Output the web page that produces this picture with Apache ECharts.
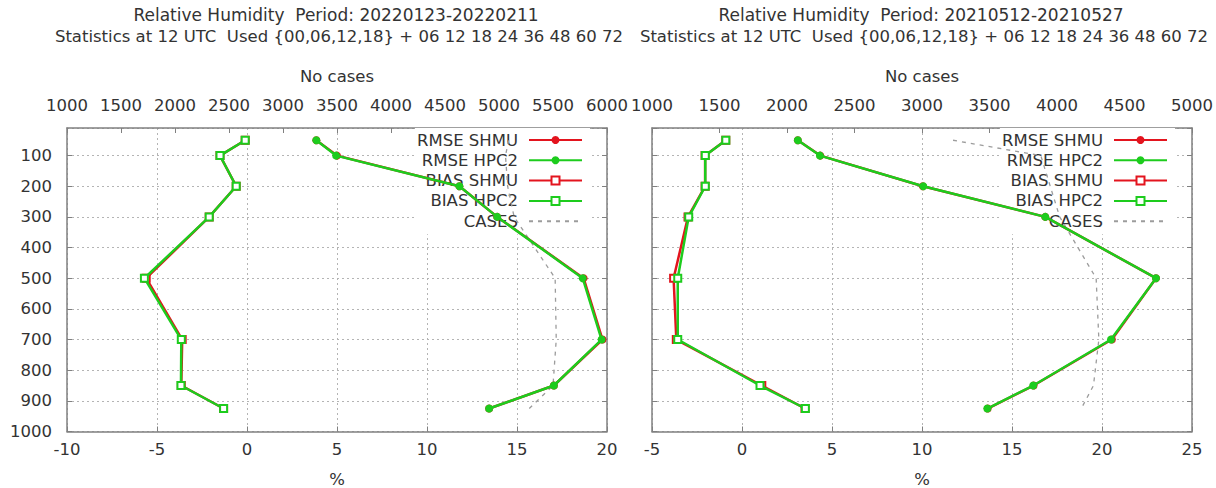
<!DOCTYPE html>
<html><head><meta charset="utf-8">
<script src="https://cdn.jsdelivr.net/npm/echarts@6/dist/echarts.min.js"></script>
<style>
html,body{margin:0;padding:0;background:#fff;width:1216px;height:488px;overflow:hidden}
#c{position:absolute;left:0;top:0;width:1216px;height:488px}
</style></head><body>
<div id="c"></div>
<script>
// pressure levels (hPa)
const levels = [50, 100, 200, 300, 500, 700, 850, 925];
const seriesNames = ['RMSE SHMU', 'RMSE HPC2', 'BIAS SHMU', 'BIAS HPC2', 'CASES'];
const subtitle = 'Statistics at 12 UTC  Used {00,06,12,18} + 06 12 18 24 36 48 60 72';

// Left panel: period 20220123-20220211
const titleL = 'Relative Humidity  Period: 20220123-20220211';
const rmseShmuL = [3.85, 5.0, 11.8, 13.9, 18.7, 19.75, 17.05, 13.45];
const rmseHpc2L = [3.85, 4.95, 11.8, 13.9, 18.65, 19.7, 17.05, 13.45];
const biasShmuL = [-0.1, -1.5, -0.6, -2.1, -5.6, -3.6, -3.65, -1.3];
const biasHpc2L = [-0.1, -1.5, -0.6, -2.1, -5.7, -3.65, -3.67, -1.3];
const casesL = [5090, 5060, 5080, 5140, 5520, 5530, 5500, 5280];
const pctRangeL = [-10, 20];
const casesRangeL = [1000, 6000];

// Right panel: period 20210512-20210527
const titleR = 'Relative Humidity  Period: 20210512-20210527';
const rmseShmuR = [3.1, 4.35, 10.05, 16.85, 23.0, 20.55, 16.2, 13.65];
const rmseHpc2R = [3.1, 4.33, 10.07, 16.85, 23.0, 20.5, 16.18, 13.63];
const biasShmuR = [-0.9, -2.05, -2.05, -3.0, -3.8, -3.65, 1.1, 3.5];
const biasHpc2R = [-0.9, -2.04, -2.04, -2.96, -3.57, -3.57, 1.0, 3.52];
const casesR = [3230, 3880, 3950, 4020, 4290, 4310, 4270, 4180];
const pctRangeR = [-5, 25];
const casesRangeR = [1000, 5000];

const FONT = 'DejaVu Sans';
const TXT = '#333';
const RED = '#e3141e';
const GREEN = '#1dcc1d';
const BORDER = '#808080';
const TOTAL_W = 1216;

function pairs(vals) { return levels.map((p, i) => [vals[i], p]); }

const option = {
  animation: false,
  backgroundColor: '#fff',
  graphic: [], grid: [], legend: [], xAxis: [], yAxis: [], series: []
};

function addPanel(k, dx, showYLabels, title, rmseS, rmseH, biasS, biasH, cases, pctRange, casesRange) {
  const axisLine = { show: true, onZero: false, lineStyle: { color: BORDER, width: 1.5 } };
  const tick = { show: true, inside: true, length: 5, lineStyle: { color: BORDER, width: 1 } };
  const lbl = { fontFamily: FONT, fontSize: 16.5, color: TXT };
  const gridLine = { type: [2, 3], color: '#b4b4b4', width: 1 };
  const font = '16.5px "' + FONT + '"';

  option.graphic.push(
    { type: 'text', x: dx + 336, y: 15, style: { text: title, font: '17px "' + FONT + '"', fill: TXT, textAlign: 'center', textVerticalAlign: 'middle' } },
    { type: 'text', x: dx + 339, y: 36, style: { text: subtitle, font: font, fill: TXT, textAlign: 'center', textVerticalAlign: 'middle' } }
  );
  option.grid.push({ left: dx + 67, top: 128, right: TOTAL_W - (dx + 607), bottom: 488 - 431.5, outerBoundsMode: 'none', containLabel: false });
  option.legend.push({
    orient: 'vertical', align: 'right', right: TOTAL_W - (dx + 590), top: 128,
    padding: [2, 7, 3, 2], itemWidth: 53, itemHeight: 10, itemGap: 0.3,
    backgroundColor: '#fff', z: 1,
    textStyle: { fontFamily: FONT, fontSize: 16.5, lineHeight: 20, color: TXT, padding: [0, 6, 0, 0] },
    data: [seriesNames[0], seriesNames[1], seriesNames[2], seriesNames[3],
           { name: seriesNames[4], itemStyle: { opacity: 0 } }]
  });
  const xb = option.xAxis.length;
  option.xAxis.push(
    {
      gridIndex: k, type: 'value', position: 'bottom', min: pctRange[0], max: pctRange[1], interval: 5,
      axisLine: axisLine, axisTick: tick,
      axisLabel: Object.assign({ margin: 9 }, lbl),
      splitLine: { show: true, lineStyle: gridLine },
      name: '%', nameLocation: 'middle', nameGap: 40,
      nameTextStyle: Object.assign({ lineHeight: 16 }, lbl)
    },
    {
      gridIndex: k, type: 'value', position: 'top', min: casesRange[0], max: casesRange[1], interval: 500,
      axisLine: axisLine, axisTick: tick,
      axisLabel: Object.assign({ margin: 14, formatter: v => String(v) }, lbl),
      splitLine: { show: false },
      name: 'No cases', nameLocation: 'middle', nameGap: 43, nameTextStyle: lbl
    }
  );
  const yb = option.yAxis.length;
  const yBase = {
    gridIndex: k, type: 'value', inverse: true, min: 10, max: 1000, splitNumber: 10,
    axisLine: axisLine, axisTick: tick
  };
  option.yAxis.push(
    Object.assign({}, yBase, {
      position: 'left',
      axisLabel: Object.assign({ show: showYLabels, margin: 15, showMinLabel: false, formatter: v => (v % 100 === 0 ? String(v) : '') }, lbl),
      splitLine: { show: true, lineStyle: gridLine }
    }),
    Object.assign({}, yBase, {
      position: 'right',
      axisLabel: { show: false },
      splitLine: { show: false }
    })
  );
  const lineSeries = (name, vals, color, symbol, size, z) => ({
    name: name, type: 'line', xAxisIndex: xb, yAxisIndex: yb,
    data: pairs(vals), symbol: symbol, symbolSize: size, showSymbol: true,
    lineStyle: { color: color, width: 2.5 },
    itemStyle: { color: color, borderWidth: symbol === 'emptyRect' ? 4 : 0 },
    z: z, animation: false
  });
  option.series.push(
    lineSeries(seriesNames[0], rmseS, RED, 'circle', 8, 3),
    lineSeries(seriesNames[1], rmseH, GREEN, 'circle', 8, 4),
    lineSeries(seriesNames[2], biasS, RED, 'emptyRect', 7, 3),
    lineSeries(seriesNames[3], biasH, GREEN, 'emptyRect', 7, 4),
    {
      name: seriesNames[4], type: 'line', xAxisIndex: xb + 1, yAxisIndex: yb,
      data: pairs(cases), symbol: 'none',
      lineStyle: { color: '#9c9c9c', width: 1.3, type: [4, 5] },
      itemStyle: { color: '#9c9c9c' },
      z: 2, animation: false
    }
  );
}

addPanel(0, 0, true, titleL, rmseShmuL, rmseHpc2L, biasShmuL, biasHpc2L, casesL, pctRangeL, casesRangeL);
addPanel(1, 585, false, titleR, rmseShmuR, rmseHpc2R, biasShmuR, biasHpc2R, casesR, pctRangeR, casesRangeR);

const chart = echarts.init(document.getElementById('c'), null, { renderer: 'svg' });
chart.setOption(option);
</script>
</body></html>
